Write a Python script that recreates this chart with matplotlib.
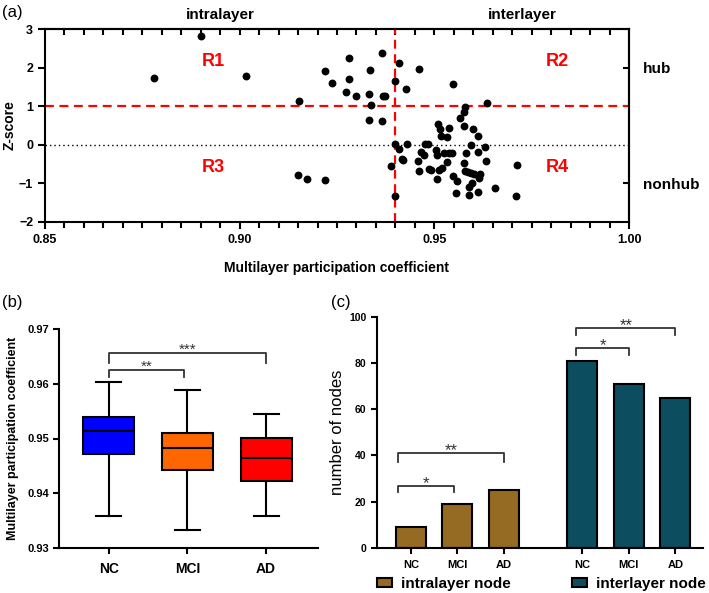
import numpy as np
import matplotlib
matplotlib.use('Agg')
import matplotlib.pyplot as plt
from matplotlib.patches import Patch
from matplotlib.ticker import MultipleLocator

plt.rcParams.update({
    'font.family': ['Liberation Sans', 'DejaVu Sans'],
    'font.weight': 'bold',
    'axes.linewidth': 1.5,
    'xtick.major.width': 1.5,
    'ytick.major.width': 1.5,
    'xtick.minor.width': 1.5,
    'ytick.minor.width': 1.5,
})

# ---- panel (a): participation coefficient vs z-score ----
pc = [0.8780, 0.8900, 0.9016, 0.9153, 0.9219, 0.9237, 0.9280, 0.9280, 0.9274, 0.9299,
      0.9335, 0.9366, 0.9331, 0.9367, 0.9374, 0.9337, 0.9332, 0.9366, 0.9408, 0.9398,
      0.9427, 0.9461, 0.9547, 0.9636, 0.9150, 0.9173, 0.9218, 0.9400, 0.9408, 0.9417,
      0.9420, 0.9389, 0.9398, 0.9429, 0.9578, 0.9575, 0.9565, 0.9509, 0.9514, 0.9537,
      0.9518, 0.9532, 0.9577, 0.9599, 0.9612, 0.9477, 0.9485, 0.9465, 0.9474, 0.9505,
      0.9507, 0.9524, 0.9537, 0.9545, 0.9581, 0.9595, 0.9613, 0.9629, 0.9458, 0.9461,
      0.9487, 0.9491, 0.9513, 0.9520, 0.9533, 0.9508, 0.9547, 0.9558, 0.9576, 0.9578,
      0.9586, 0.9594, 0.9603, 0.9617, 0.9614, 0.9632, 0.9597, 0.9590, 0.9588, 0.9556,
      0.9611, 0.9657, 0.9713, 0.9710]
zscore = [1.73, 2.82, 1.77, 1.13, 1.90, 1.59, 2.24, 1.70, 1.37, 1.27,
          1.95, 2.39, 1.32, 1.27, 1.27, 1.03, 0.63, 0.62, 2.13, 1.64,
          1.44, 1.97, 1.57, 1.07, -0.79, -0.89, -0.92, 0.01, -0.10, -0.36,
          -0.40, -0.56, -1.33, 0.02, 0.97, 0.85, 0.69, 0.55, 0.42, 0.43,
          0.22, 0.19, 0.50, 0.42, 0.23, 0.01, 0.01, -0.18, -0.27, -0.14,
          -0.26, -0.21, -0.21, -0.21, -0.20, 0.00, -0.18, -0.06, -0.42, -0.68,
          -0.62, -0.66, -0.64, -0.60, -0.44, -0.89, -0.80, -0.94, -0.47, -0.67,
          -0.70, -0.74, -0.76, -0.75, -0.86, -0.42, -0.99, -1.09, -1.31, -1.25,
          -1.23, -1.13, -0.52, -1.33]
pc_cut = 0.94
z_cut = 1.0

# ---- panel (b): box plot summary ----
groups = ['NC', 'MCI', 'AD']
box_colors = ['#0000ff', '#ff6600', '#ff0000']
box_whislo = [0.9358, 0.9332, 0.9358]
box_q1 = [0.9472, 0.9442, 0.9423]
box_med = [0.9514, 0.9483, 0.9464]
box_q3 = [0.9539, 0.9510, 0.9501]
box_whishi = [0.9604, 0.9589, 0.9544]

# ---- panel (c): node counts ----
intra_counts = [9, 19, 25]
inter_counts = [81, 71, 65]
intra_color = '#956a22'
inter_color = '#0c4e60'

fig = plt.figure(figsize=(7.09, 5.93), dpi=100)
W, H = 709, 593


def axes_px(l, t, r, b):
    return fig.add_axes([l / W, 1 - b / H, (r - l) / W, (b - t) / H])


# ================= (a) =================
ax = axes_px(45, 29, 629, 222)
ax.scatter(pc, zscore, s=32, color='black', zorder=3, linewidths=0)
ax.axvline(pc_cut, color='#ff0000', linestyle=(0, (4, 2.5)), linewidth=1.6, zorder=2)
ax.axhline(z_cut, color='#ff0000', linestyle=(0, (4, 2.5)), linewidth=1.6, zorder=2)
ax.axhline(0, color='black', linestyle=(0, (1, 2.2)), linewidth=1.0, zorder=1)
ax.set_xlim(0.85, 1.00)
ax.set_ylim(-2, 3)
ax.set_xticks([0.85, 0.90, 0.95, 1.00])
ax.set_xticklabels(['0.85', '0.90', '0.95', '1.00'])
ax.xaxis.set_minor_locator(MultipleLocator(0.005))
ax.set_yticks([-2, -1, 0, 1, 2, 3])
ax.tick_params(axis='both', which='major', labelsize=9, length=5, direction='out')
ax.tick_params(axis='x', which='minor', length=4, direction='out')
ax.set_xlabel('Multilayer participation coefficient', fontsize=10, fontweight='bold', labelpad=11)
ax.set_ylabel('Z-score', fontsize=10, fontweight='bold', labelpad=2)

top = ax.secondary_xaxis('top')
top.set_xticks(np.arange(0.855, 0.999, 0.005))
top.tick_params(direction='in', length=4, labeltop=False, width=1.5)
right = ax.secondary_yaxis('right')
right.set_yticks([2, -1])
right.set_yticklabels(['hub', 'nonhub'])
right.tick_params(direction='in', length=4, labelsize=11, pad=10, width=1.5)

ax.text(0.895, 1.075, 'intralayer', transform=ax.get_xaxis_transform(),
        ha='center', va='center', fontsize=11, fontweight='bold')
ax.text(0.9726, 1.075, 'interlayer', transform=ax.get_xaxis_transform(),
        ha='center', va='center', fontsize=11, fontweight='bold')
for lab, x, y in [('R1', 0.8932, 2.15), ('R2', 0.9815, 2.15),
                  ('R3', 0.8932, -0.6), ('R4', 0.9815, -0.6)]:
    ax.text(x, y, lab, color='#ff0000', fontsize=13, fontweight='bold', ha='center', va='center')

fig.text(2 / W, 1 - 12 / H, '(a)', fontsize=12, fontweight='normal', va='center')

# ================= (b) =================
bx = axes_px(59.3, 329.3, 318, 547.7)
stats = []
for i, g in enumerate(groups):
    stats.append({'label': g, 'whislo': box_whislo[i], 'q1': box_q1[i], 'med': box_med[i],
                  'q3': box_q3[i], 'whishi': box_whishi[i], 'fliers': []})
pos = [1, 2, 3]
bp = bx.bxp(stats, positions=pos, widths=0.65, patch_artist=True, showfliers=False,
            capwidths=0.32,
            boxprops=dict(linewidth=1.5, edgecolor='black'),
            medianprops=dict(color='black', linewidth=1.5),
            whiskerprops=dict(color='black', linewidth=1.5),
            capprops=dict(color='black', linewidth=1.5))
for patch, c in zip(bp['boxes'], box_colors):
    patch.set_facecolor(c)
bx.set_xlim(0.37, 3.66)
bx.set_ylim(0.93, 0.97)
bx.set_yticks([0.93, 0.94, 0.95, 0.96, 0.97])
bx.set_yticklabels(['0.93', '0.94', '0.95', '0.96', '0.97'])
bx.set_xticks(pos)
bx.set_xticklabels(groups)
bx.tick_params(axis='y', labelsize=8, length=4)
bx.tick_params(axis='x', labelsize=10, length=4, pad=6)
bx.spines['top'].set_visible(False)
bx.spines['right'].set_visible(False)
bx.set_ylabel('Multilayer participation coefficient', fontsize=9, fontweight='bold', labelpad=6)


def bracket(a, x1, x2, ytop, ybot, label, fs, gap):
    a.plot([x1, x1, x2, x2], [ybot, ytop, ytop, ybot], color='#333333', linewidth=1.3,
           clip_on=False)
    a.text((x1 + x2) / 2, ytop + gap, label, ha='center', va='bottom', fontsize=fs,
           color='#333333', fontweight='normal')


bracket(bx, 1, 1.95, 0.9625, 0.9612, '**', 11, -0.0007)
bracket(bx, 1, 3, 0.9656, 0.9638, '***', 11, -0.0007)
fig.text(2 / W, 1 - 303 / H, '(b)', fontsize=12, fontweight='normal', va='center')

# ================= (c) =================
cx = axes_px(376.7, 316.7, 703.3, 548)
x_intra = [0, 1, 2]
x_inter = [3.67, 4.67, 5.67]
cx.bar(x_intra, intra_counts, width=0.64, color=intra_color, edgecolor='black', linewidth=1.5)
cx.bar(x_inter, inter_counts, width=0.64, color=inter_color, edgecolor='black', linewidth=1.5)
cx.set_xlim(-0.73, 6.27)
cx.set_ylim(0, 100)
cx.set_yticks([0, 20, 40, 60, 80, 100])
cx.set_xticks(x_intra + x_inter)
cx.set_xticklabels(groups + groups)
cx.tick_params(axis='y', labelsize=7.5, length=4)
cx.tick_params(axis='x', labelsize=8, length=4, pad=5)
cx.spines['top'].set_visible(False)
cx.spines['right'].set_visible(False)
cx.set_ylabel('number of nodes', fontsize=12, fontweight='normal', labelpad=3)

bracket(cx, -0.27, 0.93, 26.9, 24.3, '*', 12, -2.2)
bracket(cx, -0.27, 2.0, 40.9, 37.3, '**', 12, -2.2)
bracket(cx, 3.55, 4.67, 86.5, 83.6, '*', 12, -2.2)
bracket(cx, 3.55, 5.67, 94.9, 92.0, '**', 12, -2.2)

handles = [Patch(facecolor=intra_color, edgecolor='black', linewidth=1.5),
           Patch(facecolor=inter_color, edgecolor='black', linewidth=1.5)]
fig.legend(handles, ['intralayer node', 'interlayer node'], ncol=2, frameon=False,
           loc='center', bbox_to_anchor=(541.5 / W, 1 - 584 / H),
           prop={'size': 11, 'weight': 'bold'}, handlelength=1.0, handleheight=0.6,
           handletextpad=0.6, columnspacing=4.0, borderpad=0)
fig.text(331 / W, 1 - 303 / H, '(c)', fontsize=12, fontweight='normal', va='center')

fig.savefig('out.png', dpi=100, facecolor='white')
